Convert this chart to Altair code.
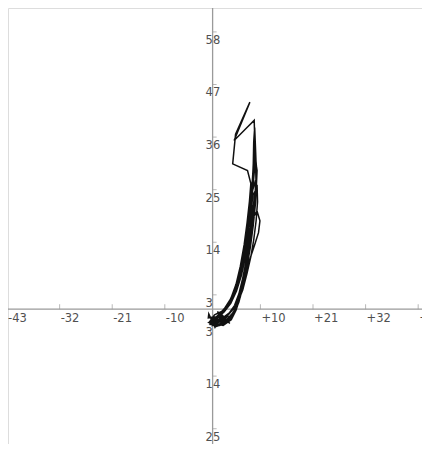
import altair as alt
import pandas as pd

# ---- data ----
curve_x = [
    0.0, 1.5, 3.0, 4.3, 5.2, 6.0, 6.8, 7.5, 8.2, 8.8, 9.1,
    8.5, 7.9, 7.2, 6.4, 5.5, 4.5, 3.3, 2.0, 0.5, -0.4,
    1.0, 2.8, 4.2, 5.1, 5.9, 6.7, 7.4, 8.1, 8.7, 9.1, 9.0,
    8.7, 8.3, 7.8, 7.1, 6.3, 5.3, 4.2, 3.0, 1.5, 0.2,
    1.2, 3.5, 4.8, 5.8, 6.8, 7.8, 8.8, 9.6, 9.9, 9.3, 8.4, 7.6, 6.9, 6.0, 5.0, 3.8, 2.4, 0.8, 0.0,
    1.8, 3.6, 4.9, 5.7, 6.5, 7.2, 7.9, 8.5, 9.0, 9.2, 9.0, 8.8,
    8.6, 8.4, 8.0, 7.5, 6.8, 6.0, 5.1, 4.0, 2.6, 1.0, -0.3,
    0.8, 2.5, 4.0, 5.0, 5.9, 6.7, 7.5, 8.2, 8.8, 9.1, 9.0, 8.8, 8.7,
    7.3, 4.5, 7.8, 4.8, 4.2, 7.3, 8.0,
    7.7, 7.2, 6.6, 5.8, 4.9, 3.8, 2.4, 1.0, 0.0,
    1.4, 3.2, 4.6, 5.5, 6.3, 7.1, 7.8, 8.4, 8.9, 9.0,
    8.4, 7.9, 7.3, 6.6, 5.8, 4.8, 3.6, 2.2, 0.6, -0.5,
    1.5, 3.4, 4.7, 5.6, 6.4, 7.2, 7.9, 8.5, 9.0, 9.2, 9.0, 8.8,
    8.6, 8.5, 8.2, 7.7, 7.0, 6.2, 5.3, 4.3, 3.0, 1.6, 0.3,
    0.5, 2.2, 3.9, 4.9, 5.8, 6.6, 7.3, 8.0, 8.6, 9.1, 9.3, 9.0,
    8.7, 8.2, 7.6, 6.9, 6.1, 5.2, 4.2, 3.0, 1.4, -0.8,
    0.6, 2.6, 4.4, 5.4, 6.2, 7.0, 7.7, 8.3, 8.8, 9.0,
    8.2, 7.5, 6.8, 6.0, 5.1, 4.0, 2.8, 1.2, 0.2,
    0.2, 2.4, 4.0, 5.3, 6.3, 7.2, 8.0, 8.6, 9.1, 9.4, 9.3,
    8.9, 8.4, 7.9, 7.2, 6.5, 5.6, 4.6, 3.4, 2.0, 0.4,
    -0.6, 1.2, 3.0, 4.5, 5.5, 6.3, 7.0, 7.7, 8.3, 8.8, 9.1, 9.2, 8.9,
    8.6, 8.2, 7.8, 7.1, 6.4, 5.6, 4.7, 3.6, 2.2, 0.8, -0.9,
    -0.8, 0.5, 2.0, 3.6, 1.0, 2.8, 0.0, 3.3, 1.6, -0.3,
]
curve_y = [
    -2.0, -2.2, -1.5, 0.0, 2.0, 4.5, 8.0, 12.0, 16.5, 21.0, 25.0,
    24.0, 20.0, 15.0, 10.5, 6.5, 3.5, 1.0, -0.8, -1.8, -3.0,
    -3.3, -2.4, -1.0, 1.2, 3.8, 7.2, 11.0, 15.5, 20.5, 25.5, 30.0,
    28.5, 24.0, 19.5, 14.5, 10.0, 5.8, 2.8, 0.5, -1.2, -2.6,
    -2.8, -2.0, 0.2, 3.0, 6.8, 10.5, 13.5, 16.0, 18.5, 20.5, 19.0, 15.0, 11.0, 7.0, 3.8, 1.2, -0.6, -2.0, -3.4,
    -3.0, -1.8, 0.4, 2.8, 6.0, 9.5, 13.5, 18.0, 23.0, 28.0, 32.0, 35.0,
    32.5, 28.0, 23.0, 18.5, 13.5, 9.0, 5.0, 2.2, 0.0, -1.5, -2.4,
    -3.6, -3.0, -1.5, 0.8, 3.5, 7.0, 11.5, 16.5, 22.0, 27.0, 32.0, 36.0, 39.5,
    38.1, 35.3, 43.3, 36.6, 30.4, 29.0, 26.3,
    22.5, 18.0, 13.5, 9.0, 5.2, 2.2, 0.0, -1.5, -2.5,
    -2.5, -1.2, 0.8, 3.2, 6.5, 10.5, 15.0, 19.5, 24.0, 27.0,
    25.0, 21.0, 16.5, 12.0, 8.0, 4.5, 1.8, -0.4, -2.0, -3.2,
    -3.4, -2.4, -0.4, 2.2, 5.4, 9.0, 13.0, 17.5, 22.5, 27.5, 33.0, 38.0,
    35.0, 30.0, 25.0, 20.0, 15.0, 10.5, 6.2, 3.0, 0.6, -1.2, -2.2,
    -3.0, -3.4, -2.2, -0.2, 2.6, 6.0, 10.0, 14.5, 19.5, 24.5, 29.0, 31.0,
    29.0, 24.5, 19.5, 14.5, 10.0, 6.0, 2.8, 0.3, -1.6, -2.8,
    -3.5, -2.6, -0.6, 1.8, 4.8, 8.5, 12.5, 16.5, 20.5, 23.0,
    21.0, 16.5, 12.0, 8.0, 4.6, 2.0, 0.0, -1.3, -3.0,
    -2.0, -1.6, -0.4, 1.5, 4.0, 7.5, 11.0, 14.5, 18.5, 22.5, 26.0,
    24.5, 21.0, 17.0, 13.0, 9.5, 6.0, 3.2, 1.2, -0.4, -1.2,
    -2.6, -3.2, -2.6, -1.0, 1.5, 4.6, 8.2, 12.0, 16.0, 20.5, 25.0, 29.5, 33.0,
    30.0, 25.5, 21.0, 16.0, 11.5, 7.5, 4.0, 1.6, -0.2, -1.6, -1.8,
    -1.0, -3.8, -1.2, -3.0, -0.5, -2.0, -3.2, -1.4, -2.6, -1.8,
]

x_tick_values = [-43, -32, -21, -10, 10, 21, 32, 43]
x_tick_labels = ["-43", "-32", "-21", "-10", "+10", "+21", "+32", "+43"]
y_tick_values = [58, 47, 36, 25, 14, 3, -3, -14, -25]
y_tick_labels = ["58", "47", "36", "25", "14", "3", "3", "14", "25"]

X_DOMAIN = [-42.8, 43.8]
Y_DOMAIN = [-28.2, 63.0]

curve = pd.DataFrame({"x": curve_x, "y": curve_y, "i": list(range(len(curve_x)))})
xt = pd.DataFrame({"x": x_tick_values, "y": [0] * len(x_tick_values), "label": x_tick_labels})
yt = pd.DataFrame({"x": [0] * len(y_tick_values), "y": y_tick_values, "label": y_tick_labels})
haxis = pd.DataFrame({"x": [X_DOMAIN[0]], "x2": [X_DOMAIN[1]], "y": [0]})
vaxis = pd.DataFrame({"y": [Y_DOMAIN[0]], "y2": [Y_DOMAIN[1]], "x": [0]})

xs = alt.Scale(domain=X_DOMAIN, nice=False, zero=False)
ys = alt.Scale(domain=Y_DOMAIN, nice=False, zero=False)
X = lambda f="x": alt.X(f"{f}:Q", scale=xs, axis=None)
Y = lambda f="y": alt.Y(f"{f}:Q", scale=ys, axis=None)

axis_color = "#9a9a9a"
label_color = "#505050"
font = "DejaVu Sans"

h_line = alt.Chart(haxis).mark_rule(color=axis_color, strokeWidth=1.3).encode(
    x=X(), x2="x2:Q", y=Y())
v_line = alt.Chart(vaxis).mark_rule(color=axis_color, strokeWidth=1.3).encode(
    y=Y(), y2="y2:Q", x=X())

x_ticks = alt.Chart(xt).mark_tick(orient="vertical", size=5, thickness=1,
                                  color=axis_color, yOffset=-2.5).encode(x=X(), y=Y())
y_ticks = alt.Chart(yt).mark_tick(orient="horizontal", size=4, thickness=1,
                                  color=axis_color, xOffset=2).encode(x=X(), y=Y())

x_text = alt.Chart(xt).mark_text(align="left", baseline="middle", dx=1, dy=10,
                                 font=font, fontSize=11.5, color=label_color).encode(
    x=X(), y=Y(), text="label:N")
y_text = alt.Chart(yt).mark_text(align="left", baseline="middle", dx=-7, dy=9,
                                 font=font, fontSize=11.5, color=label_color).encode(
    x=X(), y=Y(), text="label:N")

line = alt.Chart(curve).mark_line(color="#111111", strokeWidth=1.5,
                                  strokeJoin="miter").encode(
    x=X(), y=Y(), order="i:Q")

chart = alt.layer(h_line, v_line, x_ticks, y_ticks, x_text, y_text, line).properties(
    width=414, height=436, padding=0,
    autosize=alt.AutoSizeParams(type="none"),
).configure_view(stroke="transparent", strokeWidth=0).configure(background="white")

chart.save("out.html", embed_options={"renderer": "svg", "actions": False})
